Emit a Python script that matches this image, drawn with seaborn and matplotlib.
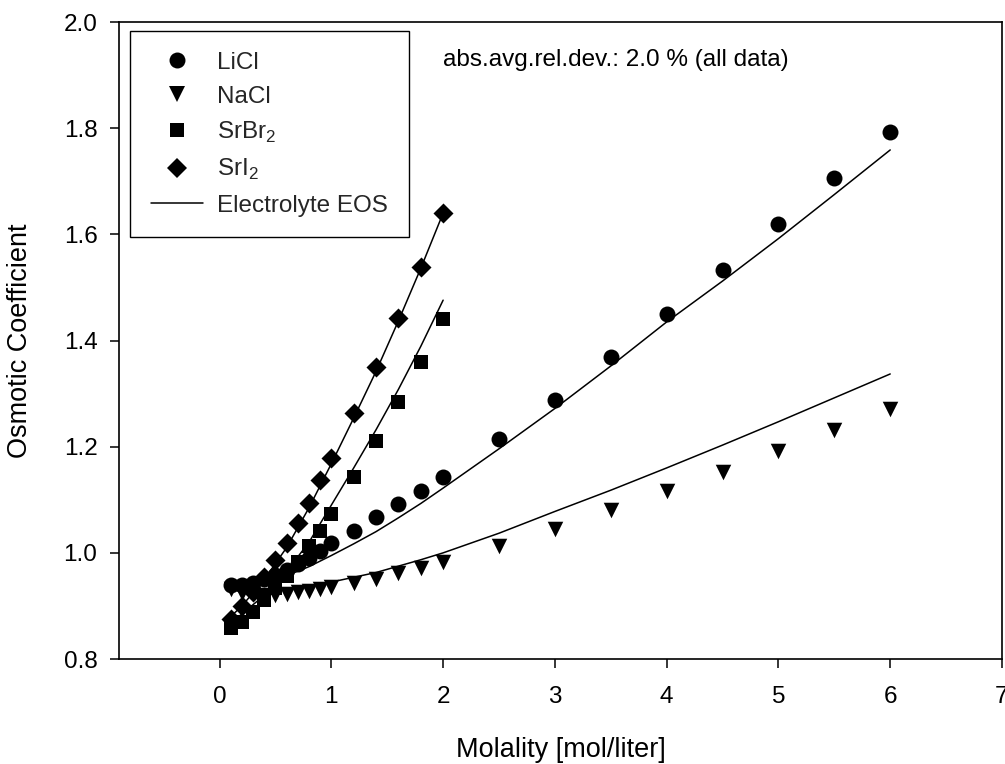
import numpy as np
import pandas as pd
import matplotlib
matplotlib.use("Agg")
import matplotlib.pyplot as plt
from matplotlib.lines import Line2D
import seaborn as sns

# Measured osmotic coefficients
licl_m = [0.1, 0.2, 0.3, 0.4, 0.5, 0.6, 0.7, 0.8, 0.9, 1.0, 1.2, 1.4, 1.6, 1.8, 2.0,
          2.5, 3.0, 3.5, 4.0, 4.5, 5.0, 5.5, 6.0]
licl_phi = [0.940, 0.939, 0.943, 0.950, 0.958, 0.967, 0.979, 0.991, 1.004, 1.018, 1.042,
            1.067, 1.092, 1.117, 1.142, 1.214, 1.288, 1.369, 1.450, 1.533, 1.620, 1.706, 1.792]

nacl_m = licl_m
nacl_phi = [0.932, 0.925, 0.922, 0.920, 0.921, 0.923, 0.926, 0.929, 0.932, 0.936, 0.943,
            0.951, 0.962, 0.972, 0.983, 1.013, 1.045, 1.080, 1.116, 1.153, 1.192, 1.231, 1.271]

srbr2_m = [0.1, 0.2, 0.3, 0.4, 0.5, 0.6, 0.7, 0.8, 0.9, 1.0, 1.2, 1.4, 1.6, 1.8, 2.0]
srbr2_phi = [0.858, 0.870, 0.889, 0.911, 0.934, 0.956, 0.983, 1.013, 1.041, 1.074,
             1.142, 1.210, 1.285, 1.360, 1.440]

sri2_m = srbr2_m
sri2_phi = [0.876, 0.900, 0.926, 0.955, 0.986, 1.019, 1.057, 1.094, 1.137, 1.178,
            1.264, 1.351, 1.442, 1.539, 1.640]

# Electrolyte EOS model curves
eos_licl_m = [0.1, 0.2, 0.4, 0.6, 0.8, 1.0, 1.2, 1.4, 1.6, 1.8, 2.0, 2.5, 3.0, 3.5,
              4.0, 4.5, 5.0, 5.5, 6.0]
eos_licl_phi = [0.935, 0.935, 0.944, 0.957, 0.974, 0.995, 1.017, 1.040, 1.066, 1.093,
                1.122, 1.196, 1.272, 1.352, 1.435, 1.512, 1.592, 1.675, 1.759]

eos_nacl_m = [0.1, 0.3, 0.5, 0.6, 1.0, 1.4, 1.8, 2.0, 2.5, 3.0, 3.5, 4.0, 4.5, 5.0, 5.5, 6.0]
eos_nacl_phi = [0.930, 0.926, 0.928, 0.932, 0.945, 0.963, 0.987, 1.000, 1.037, 1.078,
                1.118, 1.160, 1.203, 1.247, 1.292, 1.337]

eos_srbr2_m = [0.1, 0.2, 0.4, 0.6, 0.8, 1.0, 1.2, 1.4, 1.6, 1.8, 2.0]
eos_srbr2_phi = [0.868, 0.885, 0.920, 0.965, 1.020, 1.090, 1.160, 1.232, 1.308, 1.389, 1.476]

eos_sri2_m = [0.1, 0.2, 0.4, 0.6, 0.8, 1.0, 1.2, 1.4, 1.6, 1.8, 2.0]
eos_sri2_phi = [0.880, 0.900, 0.950, 1.010, 1.085, 1.168, 1.254, 1.342, 1.437, 1.536, 1.640]

salt_labels = ["LiCl", "NaCl", r"SrBr$_\mathregular{2}$", r"SrI$_\mathregular{2}$"]
salt_markers = ["o", "v", "s", "D"]
salt_sizes = [132, 125, 112, 104]
eos_label = "Electrolyte EOS"
note_text = "abs.avg.rel.dev.: 2.0 % (all data)"
x_ticks = [0, 1, 2, 3, 4, 5, 6, 7]
y_ticks = [0.8, 1.0, 1.2, 1.4, 1.6, 1.8, 2.0]

sns.set_theme(style="white")
plt.rcParams["font.family"] = ["Liberation Sans", "DejaVu Sans"]
plt.rcParams["axes.edgecolor"] = "black"
plt.rcParams["axes.linewidth"] = 1.2

fig, ax = plt.subplots(figsize=(10.05, 7.64), dpi=100)
fig.subplots_adjust(left=0.1184, right=0.997, bottom=0.1374, top=0.9712)

measured = [(licl_m, licl_phi), (nacl_m, nacl_phi), (srbr2_m, srbr2_phi), (sri2_m, sri2_phi)]
model = [(eos_licl_m, eos_licl_phi), (eos_nacl_m, eos_nacl_phi),
         (eos_srbr2_m, eos_srbr2_phi), (eos_sri2_m, eos_sri2_phi)]

for mx, my in model:
    sns.lineplot(x=mx, y=my, color="black", linewidth=1.1, ax=ax, legend=False,
                 sort=False, estimator=None)

for (mx, my), mk, sz in zip(measured, salt_markers, salt_sizes):
    sns.scatterplot(x=mx, y=my, marker=mk, s=sz, color="black", linewidth=0,
                    ax=ax, legend=False, zorder=3)

ax.set_xlim(-0.9, 7.0)
ax.set_ylim(0.8, 2.0)
ax.set_xticks(x_ticks)
ax.set_xticklabels([str(t) for t in x_ticks])
ax.set_yticks(y_ticks)
ax.set_yticklabels([f"{t:.1f}" for t in y_ticks])
for side in ["top", "right", "left", "bottom"]:
    ax.spines[side].set_visible(True)
    ax.spines[side].set_color("black")
    ax.spines[side].set_linewidth(1.2)

ax.tick_params(axis="x", direction="out", length=6.5, width=1.1, pad=13,
               labelsize=17.5, colors="black", bottom=True, top=False)
ax.tick_params(axis="y", direction="out", length=6.5, width=1.1, pad=9,
               labelsize=17.5, colors="black", left=True, right=False)

ax.set_xlabel("Molality [mol/liter]", fontsize=19.5, color="black")
ax.set_ylabel("Osmotic Coefficient", fontsize=19.5, color="black")
ax.xaxis.set_label_coords(0.5, -0.143)
ax.xaxis.label.set_va("center")
ax.yaxis.set_label_coords(-0.112, 0.5)
ax.yaxis.label.set_va("center")

handles = [Line2D([], [], linestyle="none", marker=mk, markersize=np.sqrt(sz),
                  markerfacecolor="black", markeredgewidth=0)
           for mk, sz in zip(salt_markers, salt_sizes)]
handles.append(Line2D([], [], color="black", linewidth=1.1))
leg = ax.legend(handles, salt_labels + [eos_label], loc="upper left",
                bbox_to_anchor=(0.0124, 0.986), borderaxespad=0, fontsize=17.5,
                frameon=True, fancybox=False, framealpha=1, edgecolor="black",
                borderpad=0.85, labelspacing=0.5, handlelength=2.15, handletextpad=0.6)
leg.get_frame().set_linewidth(1.0)

ax.text(0.3665, 0.940, note_text, transform=ax.transAxes, ha="left", va="center",
        fontsize=17.5, color="black")

fig.savefig("out.png", dpi=100, facecolor="white")
